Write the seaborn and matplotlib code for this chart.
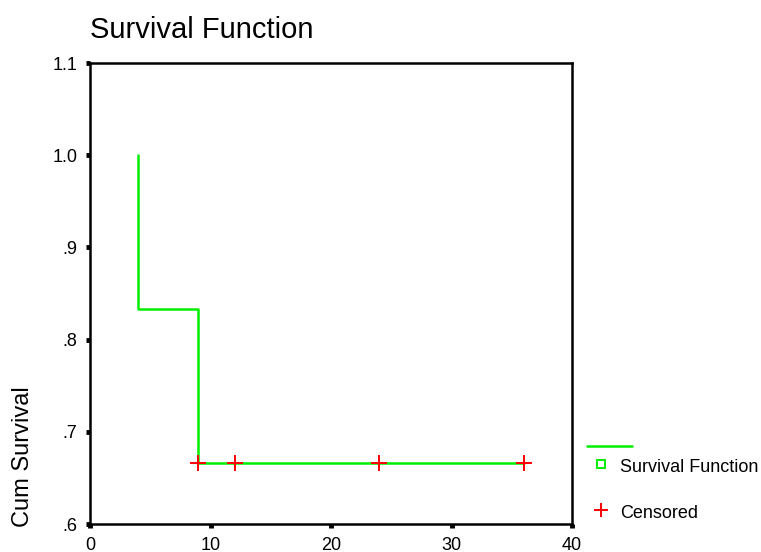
import matplotlib
matplotlib.use("Agg")
import matplotlib.pyplot as plt
import seaborn as sns
from matplotlib.lines import Line2D

# Data
step_time = [4, 4, 9, 36]
step_surv = [1.0, 0.8333, 0.6667, 0.6667]
cens_time = [9, 12, 24, 36]
cens_surv = [0.6667, 0.6667, 0.6667, 0.6667]
xticks = [0, 10, 20, 30, 40]
yticks = [0.6, 0.7, 0.8, 0.9, 1.0, 1.1]
ytick_labels = [".6", ".7", ".8", ".9", "1.0", "1.1"]

sns.set_style("white")
plt.rcParams['font.family'] = ['Liberation Sans', 'DejaVu Sans']
plt.rcParams['text.color'] = 'black'

W, H = 761, 552
fig = plt.figure(figsize=(W / 100, H / 100), dpi=100)
ax = fig.add_axes([90 / W, 1 - 524 / H, (572 - 90) / W, (524 - 63) / H])

sns.lineplot(x=step_time, y=step_surv, ax=ax, color="#00ee00", linewidth=1.8,
             drawstyle="steps-post", estimator=None, sort=False)
sns.scatterplot(x=cens_time, y=cens_surv, ax=ax, marker="+", color="#ff0000",
                s=120, linewidth=1.4, zorder=5)

ax.set_xlim(0, 40)
ax.set_ylim(0.6, 1.1)
ax.set_xticks(xticks)
ax.set_xticklabels([str(t) for t in xticks])
ax.set_yticks(yticks)
ax.set_yticklabels(ytick_labels)
ax.tick_params(axis="both", direction="out", length=3, width=3.5, colors="black",
               labelcolor="black", labelsize=13, pad=6, left=True, bottom=True)
for s in ax.spines.values():
    s.set_visible(True)
    s.set_color("black")
    s.set_linewidth(1.8)

ax.set_ylabel("")
ax.set_xlabel("")

def fx(px):
    return px / W

def fy(py):
    return 1 - py / H

fig.text(fx(23), fy(527), "Cum Survival", fontsize=17, rotation=90,
         ha="center", va="bottom", color="black")
fig.text(fx(90), fy(30), "Survival Function", fontsize=21, ha="left", va="center",
         color="black")

# Manual legend
fig.add_artist(Line2D([fx(587), fx(632)], [fy(446), fy(446)], color="#00ee00",
                      linewidth=1.8, transform=fig.transFigure))
fig.add_artist(Line2D([fx(601)], [fy(464)], marker="s", markersize=5.5,
                      markerfacecolor="white", markeredgecolor="#00ee00",
                      markeredgewidth=1.4, linestyle="none", transform=fig.transFigure))
fig.text(fx(620), fy(468), "Survival Function", fontsize=13, ha="left", va="center",
         color="black")
fig.add_artist(Line2D([fx(601)], [fy(510)], marker="+", markersize=10,
                      color="#ff0000", markeredgewidth=1.4, linestyle="none",
                      transform=fig.transFigure))
fig.text(fx(620), fy(514), "Censored", fontsize=13, ha="left", va="center",
         color="black")

fig.savefig("out.png", dpi=100)
